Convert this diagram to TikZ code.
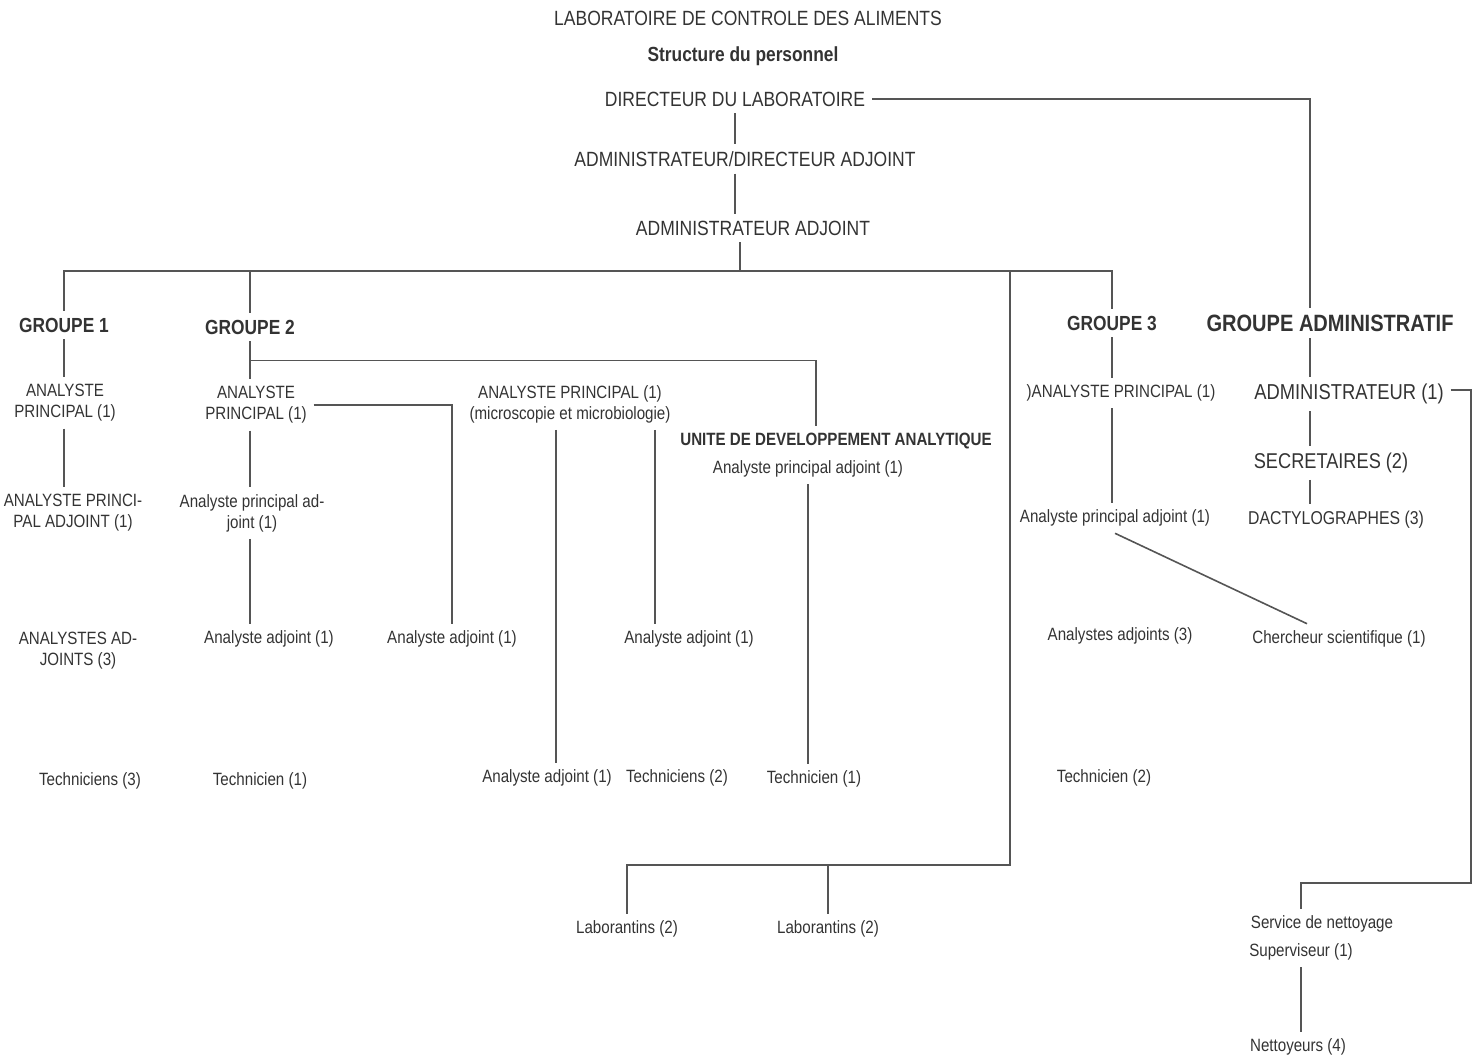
\documentclass[tikz,border=0pt]{standalone}
\usepackage{fontspec}
\setmainfont{Liberation Sans}[FakeStretch=0.85]
\usetikzlibrary{calc}
\definecolor{encre}{HTML}{333333}
\definecolor{trait}{HTML}{555555}
\tikzset{
  rang/.style={font=\fontsize{10.3}{12}\selectfont, text=encre, inner sep=1.5pt, outer sep=2pt},
  personnel/.style={font=\fontsize{8.9}{10.5}\selectfont, text=encre, align=center, inner sep=1.5pt, outer sep=2pt},
  groupe/.style={font=\fontsize{10.2}{12}\selectfont\bfseries, text=encre, inner sep=1.5pt, outer sep=2pt},
  liaison/.style={draw=trait, line width=0.8pt},
}
\begin{document}
\begin{tikzpicture}[x=0.5pt,y=-0.5pt]
	\useasboundingbox (0,0) rectangle (1477,1060);
	\node[rang] (titre) at (748,18) {LABORATOIRE DE CONTROLE DES ALIMENTS};
	\node[groupe] (struct) at (743,56) {Structure du personnel};
	\node[rang] (dir) at (735,99) {DIRECTEUR DU LABORATOIRE};
	\node[rang] (dadj) at (745,159) {ADMINISTRATEUR/DIRECTEUR ADJOINT};
	\node[rang] (aadj) at (753,228) {ADMINISTRATEUR ADJOINT};
	\coordinate (barre) at (740,271);
	\coordinate (labo) at (1010,865);
	\coordinate (menage) at (1471,883);

	\node[groupe] (g1) at (64,325) {GROUPE 1};
	\node[groupe] (g2) at (250,327) {GROUPE 2};
	\node[groupe] (g3) at (1112,323) {GROUPE 3};
	\node[groupe, font=\fontsize{11.8}{13}\selectfont\bfseries] (gadm) at (1330,323) {GROUPE ADMINISTRATIF};

	\node[personnel] (ap1) at (65,403) {ANALYSTE\\PRINCIPAL (1)};
	\node[personnel] (apa1) at (73,513) {ANALYSTE PRINCI-\\PAL ADJOINT (1)};
	\node[personnel] (aas1) at (78,651) {ANALYSTES AD-\\JOINTS (3)};
	\node[personnel] (tec1) at (90,781) {Techniciens (3)};

	\node[personnel] (ap2) at (256,405) {ANALYSTE\\PRINCIPAL (1)};
	\node[personnel] (apa2) at (252,513) {Analyste principal ad-\\joint (1)};
	\node[personnel] (aa2a) at (269,639) {Analyste adjoint (1)};
	\node[personnel] (aa2b) at (452,639) {Analyste adjoint (1)};
	\node[personnel] (tec2) at (260,781) {Technicien (1)};

	\node[personnel] (micro) at (570,404) {ANALYSTE PRINCIPAL (1)\\(microscopie et microbiologie)};
	\node[personnel] (aa3a) at (689,639) {Analyste adjoint (1)};
	\node[personnel] (aa3b) at (547,778) {Analyste adjoint (1)};
	\node[personnel] (tec3) at (677,778) {Techniciens (2)};

	\node[groupe, font=\fontsize{8.9}{10}\selectfont\bfseries] (uda) at (836,441) {UNITE DE DEVELOPPEMENT ANALYTIQUE};
	\node[personnel] (apa4) at (808,469) {Analyste principal adjoint (1)};
	\node[personnel] (tec4) at (814,779) {Technicien (1)};
	\node[personnel] (lab1) at (627,929) {Laborantins (2)};
	\node[personnel] (lab2) at (828,929) {Laborantins (2)};

	\node[personnel] (ap5) at (1121,393) {)ANALYSTE PRINCIPAL (1)};
	\node[personnel] (apa5) at (1115,518) {Analyste principal adjoint (1)};
	\node[personnel] (aas5) at (1120,636) {Analystes adjoints (3)};
	\node[personnel] (tec5) at (1104,778) {Technicien (2)};

	\node[rang, font=\fontsize{10.8}{12}\selectfont] (admr) at (1349,394) {ADMINISTRATEUR (1)};
	\node[rang, font=\fontsize{10.7}{12}\selectfont] (secr) at (1331,463) {SECRETAIRES (2)};
	\node[rang, font=\fontsize{9.3}{11}\selectfont] (dact) at (1336,520) {DACTYLOGRAPHES (3)};
	\node[personnel] (cher) at (1339,639) {Chercheur scientifique (1)};
	\node[personnel] (serv) at (1322,924) {Service de nettoyage};
	\node[personnel] (sup) at (1301,952) {Superviseur (1)};
	\node[personnel] (nett) at (1298,1047) {Nettoyeurs (4)};
	\coordinate (gcol) at ([xshift=-10pt]gadm.center);

	\draw[liaison] (dir.south) -- (dir.south |- dadj.north);
	\draw[liaison] (dadj.south -| dir.south) -- (dir.south |- aadj.north);
	\draw[liaison] (aadj.south -| barre) -- (barre);
	\draw[liaison] (g1.north) |- (barre) -| (g3.north);
	\draw[liaison] (g2.north) -- (g2.north |- barre);
	\draw[liaison] (barre -| labo) -- (labo) -| (lab1.north);
	\draw[liaison] (lab2.north) -- (lab2.north |- labo);

	\draw[liaison] (g1.south) -- (g1.south |- ap1.north);
	\draw[liaison] (ap1.south -| g1.south) -- (g1.south |- apa1.north);

	\draw[liaison] (g2.south) -- (g2.south |- ap2.north);
	\coordinate (g2b) at ($(g2.south)!0.5!(g2.south |- ap2.north)$);
	\draw[liaison] (g2b) -| ([xshift=-10pt]uda.north);
	\draw[liaison] (ap2.south -| g2.south) -- (g2.south |- apa2.north);
	\draw[liaison] (apa2.south -| g2.south) -- (g2.south |- aa2a.north);
	\draw[liaison] (ap2.east) -| (aa2b.north);

	\draw[liaison] ([xshift=-7pt]micro.south) -- ([xshift=-7pt]micro.south |- aa3b.north);
	\draw[liaison] ([xshift=42.5pt]micro.south) -- ([xshift=42.5pt]micro.south |- aa3a.north);
	\draw[liaison] (apa4.south) -- (apa4.south |- tec4.north);

	\draw[liaison] (g3.south) -- (g3.south |- ap5.north);
	\draw[liaison] (ap5.south -| g3.south) -- (g3.south |- apa5.north);
	\draw[liaison] (apa5.south) -- ([xshift=-16pt]cher.north);

	\draw[liaison] (dir.east) -| (gcol |- gadm.north);
	\draw[liaison] (gcol |- gadm.south) -- (gcol |- admr.north);
	\draw[liaison] (gcol |- admr.south) -- (gcol |- secr.north);
	\draw[liaison] (gcol |- secr.south) -- (gcol |- dact.north);
	\draw[liaison] ([yshift=2pt]admr.east) -| (menage) -| (serv.north -| sup.north);
	\draw[liaison] (sup.south) -- (sup.south |- nett.north);
\end{tikzpicture}
\end{document}
